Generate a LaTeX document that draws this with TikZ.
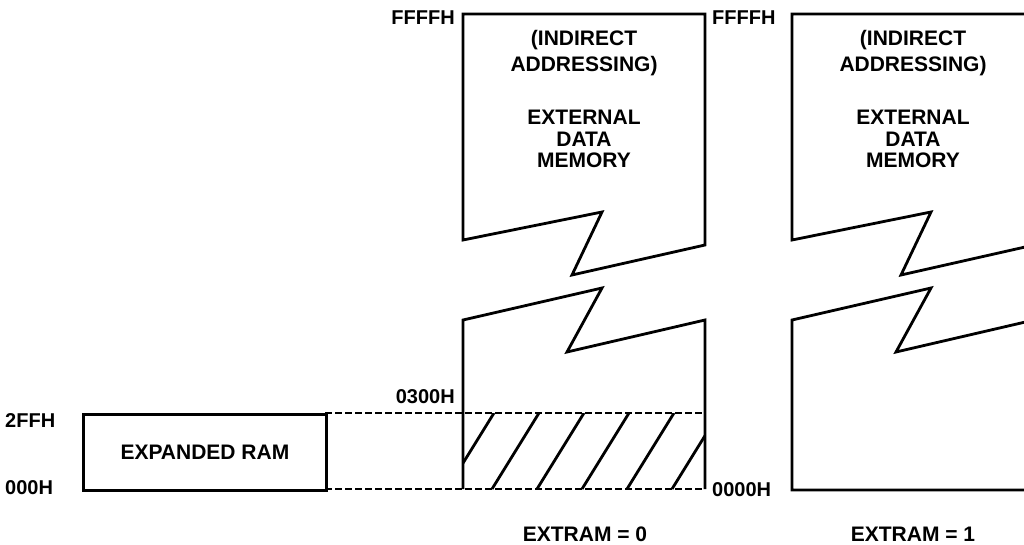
\documentclass[tikz,border=0pt]{standalone}
\usepackage{fontspec}
\setmainfont{Liberation Sans}
\begin{document}
\begin{tikzpicture}[x=1pt,y=-1pt,
  mem/.style={line width=2.8pt, line join=miter},
  dsh/.style={line width=2.8pt, dash pattern=on 7pt off 3pt},
  hatchline/.style={line width=2.8pt},
  lbl/.style={font=\fontsize{20}{22}\selectfont\bfseries, inner sep=0pt},
  txtA/.style={font=\fontsize{21}{26}\selectfont\bfseries, align=center, inner sep=0pt},
  txtB/.style={font=\fontsize{21}{21.5}\selectfont\bfseries, align=center, inner sep=0pt}]
\useasboundingbox (0,0) rectangle (1024,545);
\clip (0,0) rectangle (1024,545);

% ---------- column EXTRAM = 0 ----------
\coordinate (a1) at (463,14);
\coordinate (a2) at (705,14);
\coordinate (a3) at (705,245);
\coordinate (a4) at (572,275);
\coordinate (a5) at (602,212);
\coordinate (a6) at (463,240);
\draw[mem] (a1) -- (a2) -- (a3) -- (a4) -- (a5) -- (a6) -- cycle;

\coordinate (b1) at (463,320);
\coordinate (b2) at (602,288);
\coordinate (b3) at (567,352);
\coordinate (b4) at (705,320);
\coordinate (b5) at (705,489);
\coordinate (b6) at (463,489);
\draw[mem] (b6) -- (b1) -- (b2) -- (b3) -- (b4) -- (b5);

% hatched reserved area
\begin{scope}
  \clip (463,413) rectangle (705,489);
  \foreach \b in {447,492,537,582,627,672}
    \draw[hatchline] (\b,489) -- ({\b+47},413);
\end{scope}

% expanded RAM
\node[draw, line width=2.8pt, minimum width=243pt, minimum height=76pt, anchor=north west, inner sep=0pt] (ram) at (82,413) {};
\node[lbl, font=\fontsize{21}{22}\selectfont\bfseries] (ramtxt) at (ram.center) {EXPANDED RAM};
\coordinate (dt1) at (325,413);
\coordinate (dt2) at (705,413);
\coordinate (db1) at (325,489);
\coordinate (db2) at (705,489);
\draw[dsh] (dt1) -- (dt2);
\draw[dsh] (db1) -- (db2);

\node[txtA] (indA) at (584,53) {(INDIRECT\\ADDRESSING)};
\node[txtB] (extA) at (584,139) {EXTERNAL\\DATA\\MEMORY};

\node[lbl, anchor=east] (ffA) at (455,18) {FFFFH};
\node[lbl, anchor=east] (l300) at (455,397) {0300H};
\node[lbl, anchor=west] (l2ff) at (5,421) {2FFH};
\node[lbl, anchor=west] (l000) at (5,488) {000H};
\node[txtB] (exA) at (585,534) {EXTRAM = 0};

% ---------- column EXTRAM = 1 ----------
\coordinate (c1) at (792,14);
\coordinate (c2) at (1034,14);
\coordinate (c3) at (1034,245);
\coordinate (c4) at (901,275);
\coordinate (c5) at (931,212);
\coordinate (c6) at (792,240);
\draw[mem] (c1) -- (c2) -- (c3) -- (c4) -- (c5) -- (c6) -- cycle;

\coordinate (d1) at (792,320);
\coordinate (d2) at (931,288);
\coordinate (d3) at (896,352);
\coordinate (d4) at (1034,320);
\coordinate (d5) at (1034,490);
\coordinate (d6) at (792,490);
\draw[mem] (d1) -- (d2) -- (d3) -- (d4) -- (d5) -- (d6) -- cycle;

\node[txtA] (indB) at (913,53) {(INDIRECT\\ADDRESSING)};
\node[txtB] (extB) at (913,139) {EXTERNAL\\DATA\\MEMORY};

\node[lbl, anchor=west] (ffB) at (712,18) {FFFFH};
\node[lbl, anchor=west] (l0000) at (712,490) {0000H};
\node[txtB] (exB) at (913,534) {EXTRAM = 1};
\end{tikzpicture}
\end{document}
